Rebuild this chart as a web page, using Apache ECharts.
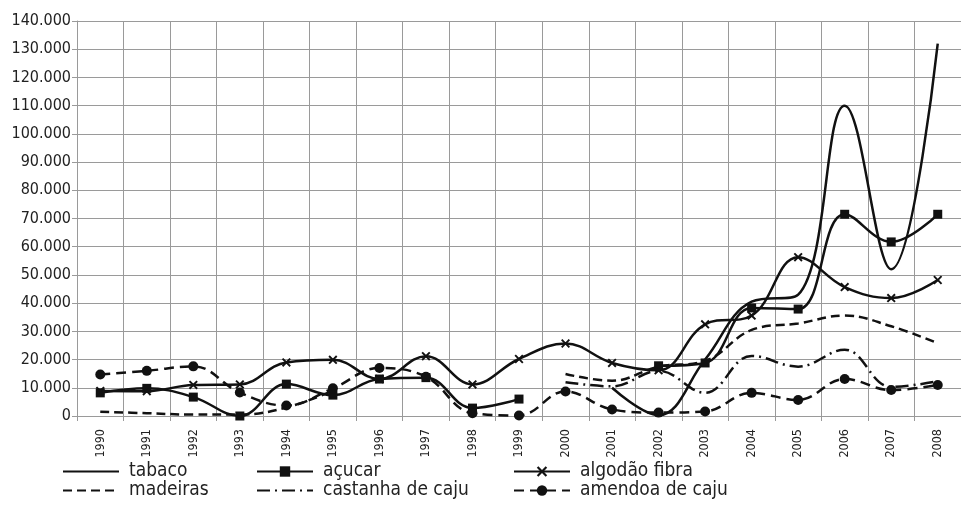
<!DOCTYPE html>
<html>
<head>
<meta charset="utf-8">
<script src="https://cdn.jsdelivr.net/npm/echarts@6/dist/echarts.min.js"></script>
<style>
  html, body { margin: 0; padding: 0; background: #fff; }
  #chart { width: 961px; height: 530px; }
</style>
</head>
<body>
<div id="chart"></div>
<script>
// Exportações por produto, 1990–2008
const years = ['1990','1991','1992','1993','1994','1995','1996','1997','1998','1999',
               '2000','2001','2002','2003','2004','2005','2006','2007','2008'];

const tabaco = [null, null, null, null, null, null, null, null, null, null,
                null, 10000, 300, 20000, 40500, 43000, 110000, 52000, 132000];
const acucar = [8200, 9800, 6700, 0, 11300, 7400, 13100, 13600, 2800, 6000,
                null, null, 17800, 18800, 38300, 37900, 71500, 61700, 71500];
const algodao = [8900, 8800, 11000, 11200, 19000, 19900, 13100, 21200, 11200, 20200,
                 25700, 18800, 16200, 32500, 35600, 56300, 45700, 41800, 48200];
const madeiras = [1500, 1000, 500, 500, 3000, 9000, null, null, null, null,
                  14900, 12500, 17500, 19500, 30500, 32800, 35600, 31800, 25800];
const castanha = [null, null, null, null, null, null, null, null, null, null,
                  12000, 10500, 16000, 8200, 21300, 17500, 23500, 10300, 12300];
const amendoa = [14700, 16000, 17600, 8300, 3700, 9800, 17000, 13900, 1000, 200,
                 8700, 2300, 1200, 1600, 8200, 5700, 13100, 9200, 11000];

const yTicks = { min: 0, max: 140000, step: 10000 };

const FONT = "'DejaVu Sans Condensed', 'DejaVu Sans', sans-serif";
const INK = '#111';
const GRID = '#9a9a9a';
const crossMark = 'path://M1.5,0 L5,3.5 L8.5,0 L10,1.5 L6.5,5 L10,8.5 L8.5,10 L5,6.5 L1.5,10 L0,8.5 L3.5,5 L0,1.5 Z';

function thousands(v) {
  return String(v).replace(/\B(?=(\d{3})+(?!\d))/g, '.');
}

// Lines without markers keep a transparent marker colour so the legend shows the bare line.
function lineSeries(name, data, dash, symbol, size) {
  return {
    name: name,
    type: 'line',
    data: data,
    smooth: 0.4,
    connectNulls: false,
    symbol: symbol || 'circle',
    symbolSize: size || 1,
    showSymbol: !!symbol,
    lineStyle: { color: INK, width: 2.5, type: dash || 'solid' },
    itemStyle: { color: symbol ? INK : 'rgba(0,0,0,0)', borderWidth: 0 },
    emphasis: { disabled: true }
  };
}

function legendAt(name, left, top) {
  return {
    data: [name],
    left: left,
    top: top,
    itemWidth: 56,
    itemHeight: 13,
    selectedMode: false,
    textStyle: { fontFamily: FONT, fontSize: 19, color: '#222', padding: [0, 0, 0, 5] }
  };
}

const chart = echarts.init(document.getElementById('chart'), null, { renderer: 'canvas' });

chart.setOption({
  animation: false,
  backgroundColor: '#ffffff',
  grid: { left: 77, top: 21, width: 889, height: 395, containLabel: false },
  legend: [
    legendAt('tabaco', 57, 457),
    legendAt('açucar', 251, 457),
    legendAt('algodão fibra', 508, 457),
    legendAt('madeiras', 57, 476),
    legendAt('castanha de caju', 251, 476),
    legendAt('amendoa de caju', 508, 476)
  ],
  xAxis: {
    type: 'category',
    data: years,
    boundaryGap: true,
    axisLine: { show: true, lineStyle: { color: GRID, width: 1 } },
    axisTick: { show: true, length: 5, interval: 0, lineStyle: { color: GRID } },
    splitLine: { show: true, interval: 0, lineStyle: { color: GRID, width: 1 } },
    axisLabel: {
      rotate: 90, interval: 0, margin: 13,
      fontFamily: FONT, fontSize: 12.5, color: '#222'
    }
  },
  yAxis: {
    type: 'value',
    min: yTicks.min,
    max: yTicks.max,
    interval: yTicks.step,
    axisLine: { show: true, lineStyle: { color: GRID, width: 1 } },
    axisTick: { show: true, length: 5, lineStyle: { color: GRID } },
    splitLine: { show: true, lineStyle: { color: GRID, width: 1 } },
    axisLabel: {
      margin: 6, fontFamily: FONT, fontSize: 16, color: '#222',
      formatter: thousands
    }
  },
  series: [
    lineSeries('tabaco', tabaco),
    lineSeries('açucar', acucar, 'solid', 'rect', 9),
    lineSeries('algodão fibra', algodao, 'solid', crossMark, 9),
    lineSeries('madeiras', madeiras, [9, 5]),
    lineSeries('castanha de caju', castanha, [13, 5, 2, 5]),
    lineSeries('amendoa de caju', amendoa, [10, 6], 'circle', 10)
  ]
});
</script>
</body>
</html>
